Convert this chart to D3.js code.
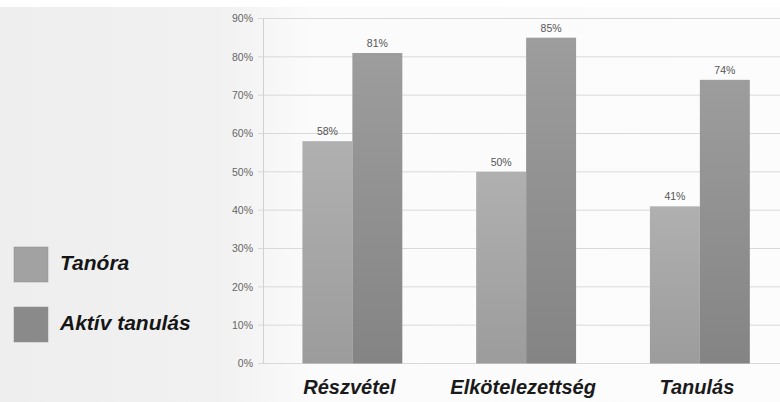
<!DOCTYPE html>
<html><head><meta charset="utf-8">
<script src="https://cdn.jsdelivr.net/npm/d3@7"></script>
<style>body{margin:0;background:#f0f0f0;}svg{display:block;}</style>
</head><body><svg id="c" width="780" height="402"></svg>
<script>
const categories = ["Részvétel", "Elkötelezettség", "Tanulás"];
const seriesNames = ["Tanóra", "Aktív tanulás"];
const tanora = [58, 50, 41];
const aktiv = [81, 85, 74];
const yTicks = [0, 10, 20, 30, 40, 50, 60, 70, 80, 90];

const svg = d3.select("#c");
const W = 780, H = 402;
const defs = svg.append("defs");
const bg = defs.append("linearGradient").attr("id","bg").attr("x1",0).attr("x2",1).attr("y1",0).attr("y2",0);
bg.append("stop").attr("offset","0").attr("stop-color","#eeeeee");
bg.append("stop").attr("offset","0.28").attr("stop-color","#f1f1f1");
bg.append("stop").attr("offset","0.4").attr("stop-color","#fbfbfb");
bg.append("stop").attr("offset","1").attr("stop-color","#fcfcfc");
svg.append("rect").attr("width",W).attr("height",H).attr("fill","url(#bg)");
svg.append("rect").attr("width",W).attr("height",7).attr("fill","#ffffff");

const g1 = defs.append("linearGradient").attr("id","g1").attr("x1",0).attr("x2",0).attr("y1",0).attr("y2",1);
g1.append("stop").attr("offset","0").attr("stop-color","#b0b0b0");
g1.append("stop").attr("offset","1").attr("stop-color","#9c9c9c");
const g2 = defs.append("linearGradient").attr("id","g2").attr("x1",0).attr("x2",0).attr("y1",0).attr("y2",1);
g2.append("stop").attr("offset","0").attr("stop-color","#9d9d9d");
g2.append("stop").attr("offset","1").attr("stop-color","#848484");
const fills = ["url(#g1)", "url(#g2)"];
const legendFills = ["#a2a2a2", "#8a8a8a"];

const x0 = d3.scaleBand().domain(categories).range([265.5, 786.75]).paddingInner(0.425).paddingOuter(0.2125);
const x1 = d3.scaleBand().domain(seriesNames).range([0, x0.bandwidth()]);
const y = d3.scaleLinear().domain([0, 90]).range([363.5, 18.5]);

// gridlines
svg.append("g").selectAll("line").data(yTicks).join("line")
  .attr("x1", 258).attr("x2", 780)
  .attr("y1", d => y(d)).attr("y2", d => y(d))
  .attr("stroke", "#d9d9d9").attr("stroke-width", 1);
svg.append("line").attr("x1",263.5).attr("x2",263.5).attr("y1",y(90)).attr("y2",y(0)).attr("stroke","#d0d0d0");

// y axis labels
const yAxis = d3.axisLeft(y).tickValues(yTicks).tickFormat(d => d + "%").tickSize(0).tickPadding(0);
const ya = svg.append("g").attr("transform","translate(253,0)").call(yAxis);
ya.select(".domain").remove();
ya.selectAll("text").attr("font-family","Liberation Sans, Arial, sans-serif").attr("font-size",10.5).attr("fill","#666");

const data = categories.map((c,i) => ({cat:c, vals:[tanora[i], aktiv[i]]}));
const groups = svg.append("g").selectAll("g").data(data).join("g")
  .attr("transform", d => `translate(${x0(d.cat)},0)`);
groups.selectAll("rect").data(d => d.vals.map((v,j)=>({v, s:seriesNames[j], j}))).join("rect")
  .attr("x", d => x1(d.s)).attr("width", x1.bandwidth())
  .attr("y", d => y(d.v)).attr("height", d => y(0) - y(d.v))
  .attr("fill", d => fills[d.j]);
groups.selectAll("text").data(d => d.vals.map((v,j)=>({v, s:seriesNames[j], j}))).join("text")
  .attr("x", d => x1(d.s) + x1.bandwidth()/2).attr("y", d => y(d.v) - 6)
  .attr("text-anchor","middle").attr("font-family","Liberation Sans, Arial, sans-serif")
  .attr("font-size",10.5).attr("fill","#555").text(d => d.v + "%");

// x axis labels
const xAxis = d3.axisBottom(x0).tickSize(0).tickPadding(0);
const xa = svg.append("g").attr("transform","translate(-3,394)").call(xAxis);
xa.select(".domain").remove();
xa.selectAll("text").attr("dy",0).attr("font-family","Liberation Sans, Arial, sans-serif")
  .attr("font-size",20).attr("font-weight","bold").attr("font-style","italic").attr("fill","#1a1a1a");

// legend
const lg = svg.append("g").selectAll("g").data(seriesNames).join("g")
  .attr("transform", (d,i) => `translate(14,${247 + i*60})`);
lg.append("rect").attr("width",34).attr("height",35).attr("fill",(d,i)=>legendFills[i]).attr("stroke","#8c8c8c").attr("stroke-width",0.5);
lg.append("text").attr("x",46).attr("y",23).attr("font-family","Liberation Sans, Arial, sans-serif")
  .attr("font-size",21).attr("font-weight","bold").attr("font-style","italic").attr("fill","#151515").text(d=>d);
</script></body></html>
